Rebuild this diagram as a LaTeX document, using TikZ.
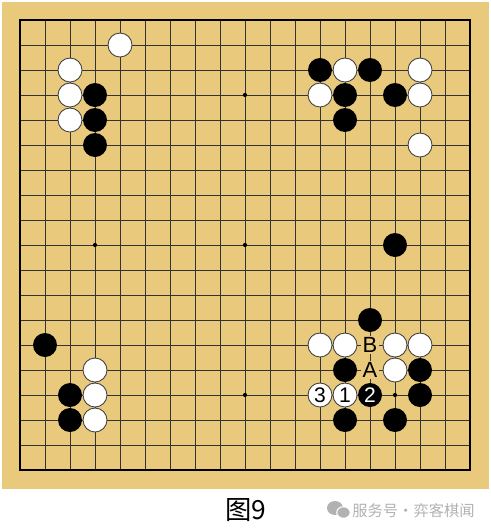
\documentclass[tikz,border=0pt]{standalone}
\usepackage{fontspec}
\setmainfont{Liberation Sans}
\newfontfamily\cjk{Noto Sans CJK SC}
\definecolor{boardtan}{RGB}{233,202,125}
\definecolor{markgray}{RGB}{178,178,178}
\tikzset{
  wstone/.style={circle,draw=black!75,line width=0.5pt,fill=white,minimum size=0.48cm,inner sep=0pt,font=\fontsize{12}{12}\selectfont},
  bstone/.style={circle,fill=black,text=white,minimum size=0.48cm,inner sep=0pt,font=\fontsize{12}{12}\selectfont},
  ptlabel/.style={fill=boardtan,inner sep=1pt,font=\fontsize{12.5}{12.5}\selectfont}
}
\begin{document}
\begin{tikzpicture}[x=0.5cm,y=-0.5cm]
  \useasboundingbox (-0.8,-0.8) rectangle (18.84,20.44);
  \fill[boardtan] (-0.72,-0.72) rectangle (18.76,18.76);
  % grid
  \foreach \k in {1,...,17} {
    \draw[black!80,line width=0.5pt] (\k,0) -- (\k,18);
    \draw[black!80,line width=0.5pt] (0,\k) -- (18,\k);
  }
  \draw[line width=1.1pt] (0,0) rectangle (18,18);
  \foreach \x/\y in {3/3,9/3,15/3,3/9,9/9,15/9,3/15,9/15,15/15}
    \fill (\x,\y) circle (1.2pt);
  % stones
  \foreach \x/\y in {4/1,2/2,2/3,2/4,13/2,16/2,12/3,16/3,16/5,12/13,13/13,15/13,16/13,15/14,3/14,3/15,3/16}
    \node[wstone] (w-\x-\y) at (\x,\y) {};
  \foreach \x/\y in {3/3,3/4,3/5,12/2,14/2,13/3,15/3,13/4,15/9,14/12,13/14,16/14,16/15,13/16,15/16,1/13,2/15,2/16}
    \node[bstone] (b-\x-\y) at (\x,\y) {};
  \node[wstone] (m1) at (13,15) {1};
  \node[bstone] (m2) at (14,15) {2};
  \node[wstone] (m3) at (12,15) {3};
  \node[ptlabel] (la) at (14,14) {A};
  \node[ptlabel] (lb) at (14,13) {B};
  % caption
  \node (cap) at (9.04,19.6) {\cjk\fontsize{15}{15}\selectfont 图9};
  \fill[markgray] (12.6,19.52) ellipse (0.32 and 0.28);
  \filldraw[markgray,draw=white,line width=0.6pt] (12.94,19.7) ellipse (0.27 and 0.23);
  \node[anchor=west,text=markgray,inner sep=0pt] (wm) at (13.28,19.62) {\cjk\fontsize{8.7}{8.7}\selectfont 服务号·弈客棋闻};
\end{tikzpicture}
\end{document}
